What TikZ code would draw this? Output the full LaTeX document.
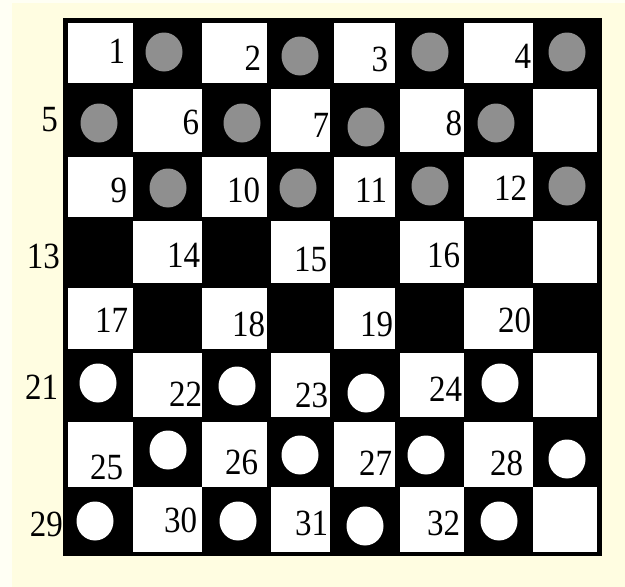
\documentclass[tikz,border=0pt]{standalone}
\usepackage{fontspec}
\setmainfont{Liberation Serif}
\usetikzlibrary{shapes.geometric}
\definecolor{outerbg}{HTML}{FFFFF4}
\definecolor{paper}{HTML}{FFFDE1}
\definecolor{dotgray}{HTML}{8F8F8F}
\newcommand{\numtxt}[1]{\scalebox{1}[1.12]{#1}}
\tikzset{
  numlab/.style={anchor=east, inner sep=0pt, outer sep=0pt,
    font=\fontsize{33}{33}\selectfont},
  gpiece/.style={ellipse, fill=dotgray, draw=none, minimum width=37pt, minimum height=39pt, inner sep=0pt},
  wpiece/.style={ellipse, fill=white, draw=none, minimum width=37pt, minimum height=39pt, inner sep=0pt},
  lightsq/.style={fill=white}
}
\begin{document}
\begin{tikzpicture}[x=1pt,y=-1pt]
\useasboundingbox (0,0) rectangle (625,587);
\fill[outerbg] (0,0) rectangle (625,587);
\fill[paper] (12,3) rectangle (625,587);
% board
\fill[black] (63,18) rectangle (602,556);
\def\colL{{68,133,202,271,334,400,464,533}}
\def\colR{{133,202,267,330,395,464,533,597}}
\def\rowT{{23,89,157,221,288,353,422,487}}
\def\rowB{{83,152,217,283,349,417,487,552}}
\foreach \r in {0,...,7}{
  \foreach \c in {0,...,7}{
    \pgfmathtruncatemacro{\sqparity}{mod(\r+\c,2)}
    \ifnum\sqparity=0
      \pgfmathsetmacro{\xa}{\colL[\c]}
      \pgfmathsetmacro{\xb}{\colR[\c]}
      \pgfmathsetmacro{\ya}{\rowT[\r]}
      \pgfmathsetmacro{\yb}{\rowB[\r]}
      \fill[lightsq] (\xa,\ya) rectangle (\xb,\yb);
    \fi
  }
}
% gray pieces
\node[gpiece] (g1) at (164,52) {};
\node[gpiece] (g2) at (300,56) {};
\node[gpiece] (g3) at (430,52) {};
\node[gpiece] (g4) at (567,52) {};
\node[gpiece] (g5) at (99,123) {};
\node[gpiece] (g6) at (242,123) {};
\node[gpiece] (g7) at (366,127) {};
\node[gpiece] (g8) at (496,123) {};
\node[gpiece] (g9) at (168,188) {};
\node[gpiece] (g10) at (298,188) {};
\node[gpiece] (g11) at (430,186) {};
\node[gpiece] (g12) at (567,186) {};
% white pieces
\node[wpiece] (w21) at (98,383) {};
\node[wpiece] (w22) at (237,386) {};
\node[wpiece] (w23) at (366,393) {};
\node[wpiece] (w24) at (500,383) {};
\node[wpiece] (w25) at (168,450) {};
\node[wpiece] (w26) at (300,455) {};
\node[wpiece] (w27) at (426,455) {};
\node[wpiece] (w28) at (567,459) {};
\node[wpiece] (w29) at (95,521) {};
\node[wpiece] (w30) at (238,521) {};
\node[wpiece] (w31) at (365,526) {};
\node[wpiece] (w32) at (499,521) {};
% numbers
\node[numlab] (n1) at (125,51) {\numtxt{1}};
\node[numlab] (n2) at (261,58) {\numtxt{2}};
\node[numlab] (n3) at (388,59) {\numtxt{3}};
\node[numlab] (n4) at (531,56) {\numtxt{4}};
\node[numlab] (n5) at (58,120) {\numtxt{5}};
\node[numlab] (n6) at (199,122) {\numtxt{6}};
\node[numlab] (n7) at (329,125) {\numtxt{7}};
\node[numlab] (n8) at (462,123) {\numtxt{8}};
\node[numlab] (n9) at (127,190) {\numtxt{9}};
\node[numlab] (n10) at (260,190) {\numtxt{10}};
\node[numlab] (n11) at (387,190) {\numtxt{11}};
\node[numlab] (n12) at (527,188) {\numtxt{12}};
\node[numlab] (n13) at (60,256) {\numtxt{13}};
\node[numlab] (n14) at (200,255) {\numtxt{14}};
\node[numlab] (n15) at (327,259) {\numtxt{15}};
\node[numlab] (n16) at (460,255) {\numtxt{16}};
\node[numlab] (n17) at (128,320) {\numtxt{17}};
\node[numlab] (n18) at (265,324) {\numtxt{18}};
\node[numlab] (n19) at (393,324) {\numtxt{19}};
\node[numlab] (n20) at (531,320) {\numtxt{20}};
\node[numlab] (n21) at (58,387) {\numtxt{21}};
\node[numlab] (n22) at (202,394) {\numtxt{22}};
\node[numlab] (n23) at (328,395) {\numtxt{23}};
\node[numlab] (n24) at (462,389) {\numtxt{24}};
\node[numlab] (n25) at (123,467) {\numtxt{25}};
\node[numlab] (n26) at (258,462) {\numtxt{26}};
\node[numlab] (n27) at (392,463) {\numtxt{27}};
\node[numlab] (n28) at (523,463) {\numtxt{28}};
\node[numlab] (n29) at (63,524) {\numtxt{29}};
\node[numlab] (n30) at (197,520) {\numtxt{30}};
\node[numlab] (n31) at (328,523) {\numtxt{31}};
\node[numlab] (n32) at (460,523) {\numtxt{32}};
\end{tikzpicture}
\end{document}
